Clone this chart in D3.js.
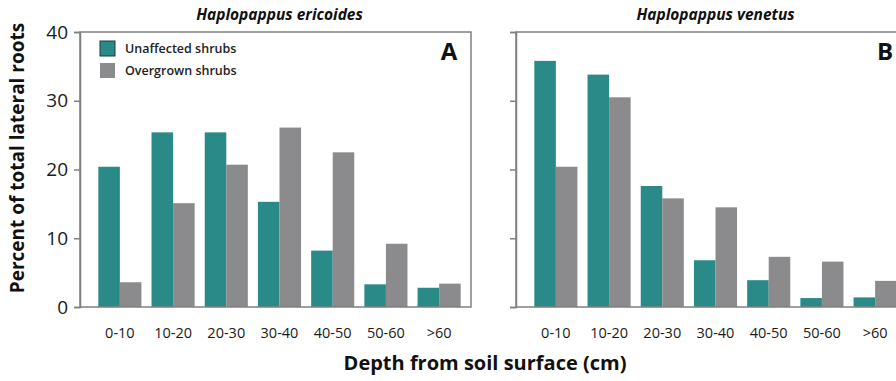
<!DOCTYPE html>
<html><head><meta charset="utf-8">
<script src="https://cdn.jsdelivr.net/npm/d3@7"></script>
<style>
body{margin:0;background:#fff;}
svg{display:block;font-family:"Open Sans","Noto Sans",sans-serif;}
</style></head>
<body>
<svg id="chart" width="896" height="381"></svg>
<script>
const categories = ["0-10","10-20","20-30","30-40","40-50","50-60",">60"];
const seriesNames = ["Unaffected shrubs","Overgrown shrubs"];
const ericoidesUnaffected = [20.4,25.4,25.4,15.3,8.2,3.3,2.8];
const ericoidesOvergrown  = [3.6,15.1,20.7,26.1,22.5,9.2,3.4];
const venetusUnaffected   = [35.8,33.8,17.6,6.8,3.9,1.3,1.4];
const venetusOvergrown    = [20.4,30.5,15.8,14.5,7.3,6.6,3.8];
const yTicks = [0,10,20,30,40];
const colors = ["#2a8a88","#8b8b8d"];

const svg = d3.select("#chart");
const plotTop = 32, plotBottom = 307;
const y = d3.scaleLinear().domain([0,40]).range([plotBottom, plotTop]);
const axisColor = "#808080";

const panels = [
  {x0:80, title:"Haplopappus ericoides", letter:"A", data:[ericoidesUnaffected, ericoidesOvergrown], labels:true},
  {x0:516, title:"Haplopappus venetus", letter:"B", data:[venetusUnaffected, venetusOvergrown], labels:false}
];
const pw = 391;

panels.forEach(p => {
  const g = svg.append("g");
  const x = d3.scaleBand().domain(categories).range([p.x0+13, p.x0+386]).paddingInner(0.19).paddingOuter(0.1);
  const xs = d3.scaleBand().domain([0,1]).range([0, x.bandwidth()]);
  p.data.forEach((arr, si) => {
    g.selectAll(null).data(arr).enter().append("rect")
      .attr("x", (d,i) => x(categories[i]) + xs(si))
      .attr("width", xs.bandwidth())
      .attr("y", d => y(d))
      .attr("height", d => y(0) - y(d))
      .attr("fill", colors[si]);
  });
  g.append("rect").attr("x", p.x0).attr("y", plotTop).attr("width", pw).attr("height", plotBottom-plotTop)
    .attr("fill","none").attr("stroke", axisColor).attr("stroke-width",1.5);
  const ya = d3.axisLeft(y).tickValues(yTicks).tickSize(6).tickFormat(p.labels ? d3.format("d") : "");
  const ag = g.append("g").attr("transform",`translate(${p.x0},0)`).call(ya);
  ag.select(".domain").attr("stroke", axisColor).attr("stroke-width",1.5);
  ag.selectAll(".tick line").attr("stroke", axisColor).attr("stroke-width",1.5);
  ag.selectAll(".tick text").attr("font-size",19).attr("fill","#1a1a1a").attr("x",-12)
    .attr("font-family","'Open Sans',sans-serif");
  const xa = d3.axisBottom(x).tickSize(0).tickPadding(21);
  const xg = g.append("g").attr("transform",`translate(0,${plotBottom})`).call(xa);
  xg.select(".domain").remove();
  xg.selectAll(".tick text").attr("font-size",14.5).attr("fill","#1a1a1a")
    .attr("font-family","'Open Sans',sans-serif");
  g.append("text").attr("x", p.x0 + pw/2 + 4).attr("y", 20).attr("text-anchor","middle")
    .attr("font-size",15.5).attr("font-weight","bold").attr("font-style","italic").attr("fill","#111")
    .text(p.title);
  g.append("text").attr("x", p.x0 + 369).attr("y", 60).attr("text-anchor","middle")
    .attr("font-size",24).attr("font-weight","bold").attr("fill","#111").text(p.letter);
});

const lg = svg.append("g");
seriesNames.forEach((n,i) => {
  lg.append("rect").attr("x",100).attr("y",41 + i*22).attr("width",15).attr("height",15)
    .attr("fill",colors[i]).attr("stroke", i===0 ? "#1d3b3a" : "none").attr("stroke-width",1);
  lg.append("text").attr("x",125).attr("y",53 + i*22).attr("font-size",12.5).attr("font-weight",600)
    .attr("fill","#222").text(n);
});

svg.append("text").attr("transform","translate(24,158) rotate(-90)").attr("text-anchor","middle")
  .attr("font-size",19).attr("font-weight","bold").attr("fill","#111").text("Percent of total lateral roots");
svg.append("text").attr("x",485).attr("y",370).attr("text-anchor","middle")
  .attr("font-size",20).attr("font-weight","bold").attr("fill","#111").text("Depth from soil surface (cm)");
</script>
</body></html>
